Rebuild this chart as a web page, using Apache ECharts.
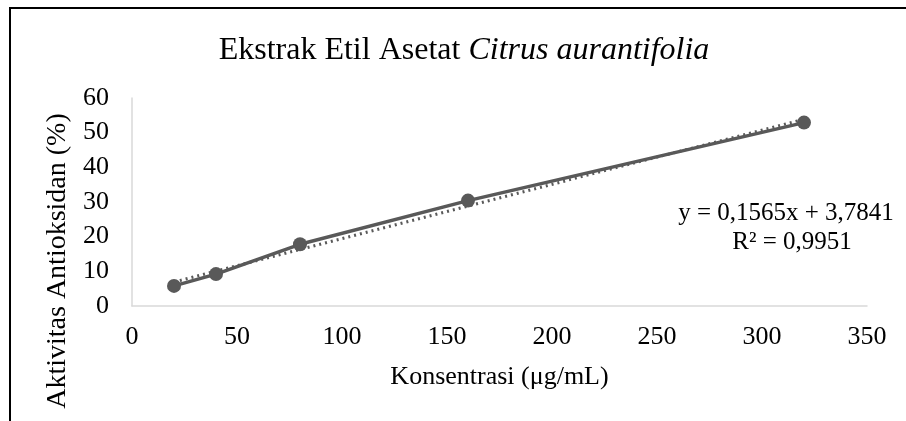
<!DOCTYPE html>
<html>
<head>
<meta charset="utf-8">
<script src="https://cdn.jsdelivr.net/npm/echarts@6/dist/echarts.min.js"></script>
<style>
  html, body { margin: 0; padding: 0; background: #fff; }
  #chart { width: 906px; height: 421px; }
</style>
</head>
<body>
<div id="chart"></div>
<script>
// data
var konsentrasi = [20, 40, 80, 160, 320];
var aktivitas = [5.8, 9.2, 17.8, 30.4, 52.9];
// linear trendline end points (y = 0,1565x + 3,7841)
var trendX = [20, 320];
var trendY = [6.9, 53.9];
var xTicks = [0, 50, 100, 150, 200, 250, 300, 350];
var yTicks = [0, 10, 20, 30, 40, 50, 60];
var equationText = "y = 0,1565x + 3,7841";
var r2Text = "R² = 0,9951";

var font = "Liberation Serif";
var lineColor = "#595959";

var myChart = echarts.init(document.getElementById("chart"));

var option = {
  backgroundColor: "#fff",
  animation: false,
  title: {
    text: "{n|Ekstrak Etil Asetat }{i|Citrus aurantifolia}",
    left: 459,
    top: 30,
    textAlign: "center",
    textStyle: {
      fontWeight: "normal",
      rich: {
        n: { fontFamily: font, fontSize: 32, color: "#000", fontWeight: "normal" },
        i: { fontFamily: font, fontSize: 32, color: "#000", fontWeight: "normal", fontStyle: "italic" }
      }
    }
  },
  grid: { left: 132, right: 39, top: 98, bottom: 115 },
  xAxis: {
    type: "value",
    min: xTicks[0],
    max: xTicks[xTicks.length - 1],
    interval: 50,
    name: "Konsentrasi (μg/mL)",
    nameLocation: "middle",
    nameGap: 58,
    nameTextStyle: { fontFamily: font, fontSize: 26, color: "#000" },
    axisLine: { lineStyle: { color: "#d9d9d9", width: 1.5 } },
    axisTick: { show: false },
    splitLine: { show: false },
    axisLabel: { fontFamily: font, fontSize: 26, color: "#000", margin: 18 }
  },
  yAxis: {
    type: "value",
    min: yTicks[0],
    max: yTicks[yTicks.length - 1],
    interval: 10,
    name: "Aktivitas Antioksidan (%)",
    nameLocation: "middle",
    nameGap: 56,
    nameRotate: 90,
    nameTextStyle: { fontFamily: font, fontSize: 28, color: "#000", padding: [0, 118, 0, 0] },
    axisLine: { show: true, lineStyle: { color: "#d9d9d9", width: 1.5 } },
    axisTick: { show: false },
    splitLine: { show: false },
    axisLabel: { fontFamily: font, fontSize: 26, color: "#000", margin: 23 }
  },
  series: [
    {
      name: "trend",
      type: "line",
      data: trendX.map(function (x, i) { return [x, trendY[i]]; }),
      showSymbol: false,
      symbol: "none",
      lineStyle: { color: lineColor, width: 3, type: [2, 4] },
      z: 1
    },
    {
      name: "aktivitas",
      type: "line",
      data: konsentrasi.map(function (x, i) { return [x, aktivitas[i]]; }),
      symbol: "circle",
      symbolSize: 14,
      itemStyle: { color: lineColor },
      lineStyle: { color: lineColor, width: 3.5 },
      z: 2
    }
  ],
  graphic: [
    {
      type: "rect",
      shape: { x: 10, y: 8, width: 1200, height: 1000 },
      style: { fill: "none", stroke: "#000", lineWidth: 2 },
      silent: true
    },
    {
      type: "text",
      x: 786,
      y: 213,
      style: {
        text: equationText,
        fontFamily: font,
        fontSize: 25,
        fill: "#000",
        textAlign: "center",
        textVerticalAlign: "middle"
      }
    },
    {
      type: "text",
      x: 792,
      y: 242,
      style: {
        text: r2Text,
        fontFamily: font,
        fontSize: 25,
        fill: "#000",
        textAlign: "center",
        textVerticalAlign: "middle"
      }
    }
  ]
};
myChart.setOption(option);
</script>
</body>
</html>
